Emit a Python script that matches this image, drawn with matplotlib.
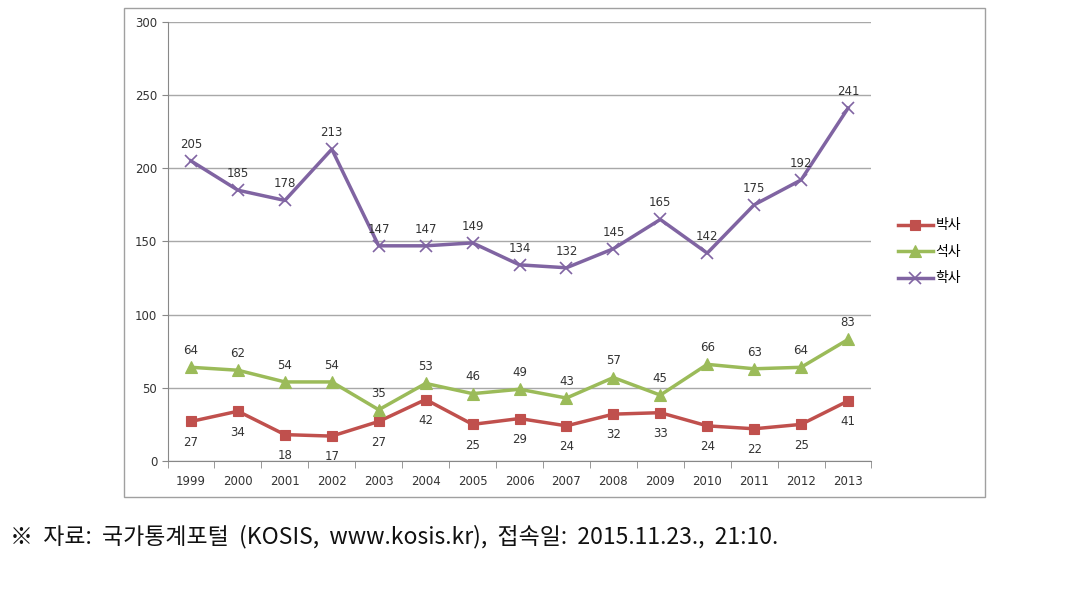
import matplotlib.pyplot as plt
import numpy as np
from matplotlib.patches import Rectangle

plt.rcParams['font.family'] = ['Noto Sans CJK KR', 'DejaVu Sans']

years = ["1999", "2000", "2001", "2002", "2003", "2004", "2005", "2006",
         "2007", "2008", "2009", "2010", "2011", "2012", "2013"]
phd = [27, 34, 18, 17, 27, 42, 25, 29, 24, 32, 33, 24, 22, 25, 41]
master = [64, 62, 54, 54, 35, 53, 46, 49, 43, 57, 45, 66, 63, 64, 83]
bachelor = [205, 185, 178, 213, 147, 147, 149, 134, 132, 145, 165, 142, 175, 192, 241]

series = [
    ("박사", phd, "#C0504D", "s", -15),
    ("석사", master, "#9BBB59", "^", 12),
    ("학사", bachelor, "#8064A2", "x", 12),
]

fig = plt.figure(figsize=(10.88, 5.91), dpi=100)
ax = fig.add_axes([0.154, 0.22, 0.647, 0.743])

# outer chart frame
fig.patches.append(Rectangle((124 / 1088, 1 - 497 / 591), (985 - 124) / 1088, (497 - 8) / 591,
                             transform=fig.transFigure, fill=False, edgecolor="#A0A0A0", lw=1.0))

x = np.arange(len(years))
for name, vals, color, marker, dy in series:
    ms = 7 if marker == "s" else 8
    ax.plot(x, vals, color=color, lw=2.5, marker=marker, markersize=ms,
            markeredgewidth=1.2 if marker == "x" else 0.8,
            markeredgecolor=color, label=name)
    for xi, v in zip(x, vals):
        ax.annotate(str(v), (xi, v), xytext=(0, dy), textcoords="offset points",
                    ha="center", va="center", fontsize=8.5, color="#333333",
                    family="DejaVu Sans")

ax.set_xlim(-0.5, len(years) - 0.5)
ax.set_ylim(0, 300)
ax.set_yticks(range(0, 301, 50))
ax.set_xticks(x)
ax.set_xticklabels(years)
ax.set_xticks(np.arange(-0.5, len(years), 1), minor=True)
ax.tick_params(axis="x", which="major", length=0, labelsize=8.5, pad=10, colors="#333333")
ax.tick_params(axis="x", which="minor", length=5, direction="out", color="#888888")
ax.tick_params(axis="y", length=4, labelsize=8.5, colors="#333333")
ax.tick_params(axis="y", color="#888888")
for lbl in ax.get_xticklabels() + ax.get_yticklabels():
    lbl.set_family("DejaVu Sans")
ax.yaxis.grid(True, color="#A8A8A8", lw=1)
ax.set_axisbelow(True)
for s in ("top", "right"):
    ax.spines[s].set_visible(False)
ax.spines["left"].set_color("#888888")
ax.spines["bottom"].set_color("#888888")

ax.legend(loc="center left", bbox_to_anchor=(1.02, 0.476), frameon=False,
          fontsize=10, handlelength=2.5, labelspacing=0.9, handletextpad=0.2)

fig.text(10 / 1088, 1 - 537 / 591,
         "※  자료:  국가통계포털  (KOSIS,  www.kosis.kr),  접속일:  2015.11.23.,  21:10.",
         fontsize=16.5, va="center", ha="left", color="#111111")

fig.savefig("out.png", dpi=100)
